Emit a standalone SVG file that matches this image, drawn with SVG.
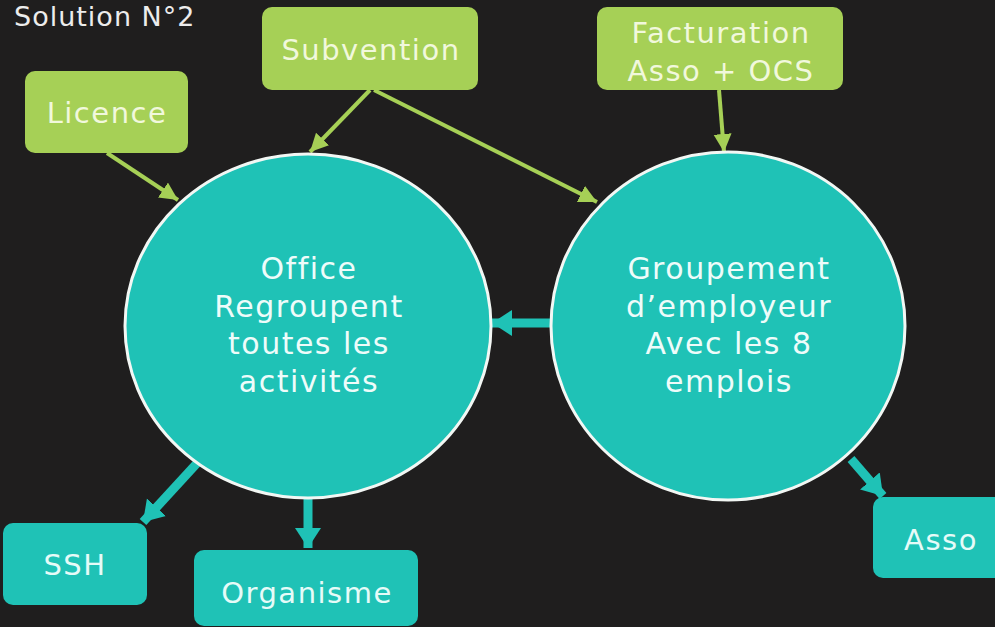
<svg xmlns="http://www.w3.org/2000/svg" width="995" height="627" viewBox="0 0 995 627">
<style>
.bg{fill:#1f1e1e}
.g{fill:#a6d056}
.t{fill:#1fc2b6}
.circ{fill:#1fc2b6;stroke:#f2f7f4;stroke-width:3}
text{font-family:"DejaVu Sans","Liberation Sans",sans-serif;text-anchor:middle;letter-spacing:1.5px}
.gt{fill:#f1f8dc;font-size:29px}
.tt{fill:#e6fbf8;font-size:29px}
.ct{fill:#eefcfa;font-size:30px}
.ga{stroke:#a6d056;stroke-width:4;fill:none}
.ta{stroke:#1fc2b6;stroke-width:9;fill:none}
</style>
<defs>
<marker id="gh" markerUnits="userSpaceOnUse" markerWidth="20" markerHeight="20" refX="18" refY="9" orient="auto"><path d="M0,0 L18,9 L0,18 Z" fill="#a6d056"/></marker>
<marker id="th" markerUnits="userSpaceOnUse" markerWidth="26" markerHeight="30" refX="20" refY="13" orient="auto"><path d="M0,0 L20,13 L0,26 Z" fill="#1fc2b6"/></marker>
</defs>
<rect class="bg" x="0" y="0" width="995" height="627"/>
<text x="14" y="26" style="fill:#ececec;font-size:27px;text-anchor:start;letter-spacing:1px">Solution N°2</text>
<g id="connectors">
<line class="ga" x1="107" y1="153" x2="178" y2="200" marker-end="url(#gh)"/>
<line class="ga" x1="370" y1="90" x2="310" y2="152" marker-end="url(#gh)"/>
<line class="ga" x1="374" y1="90" x2="597" y2="202" marker-end="url(#gh)"/>
<line class="ga" x1="719" y1="90" x2="724" y2="152" marker-end="url(#gh)"/>
<line class="ta" x1="553" y1="323" x2="492" y2="323" marker-end="url(#th)"/>
<line class="ta" x1="199" y1="461" x2="143" y2="522" marker-end="url(#th)"/>
<line class="ta" x1="308" y1="498" x2="308" y2="548" marker-end="url(#th)"/>
<line class="ta" x1="851" y1="459" x2="883" y2="496" marker-end="url(#th)"/>
</g>
<g id="licence"><rect class="g" x="25" y="71" width="163" height="82" rx="10"/><text class="gt" x="107" y="123">Licence</text></g>
<g id="subvention"><rect class="g" x="262" y="7" width="216" height="83" rx="10"/><text class="gt" x="371" y="60">Subvention</text></g>
<g id="facturation"><rect class="g" x="597" y="7" width="246" height="83" rx="10"/><text class="gt" x="721" y="43">Facturation</text><text class="gt" x="721" y="81">Asso + OCS</text></g>
<g id="office"><ellipse class="circ" cx="308" cy="326" rx="183" ry="172"/>
<text class="ct" x="309" y="279">Office</text><text class="ct" x="309" y="317">Regroupent</text><text class="ct" x="309" y="354">toutes les</text><text class="ct" x="309" y="392">activités</text></g>
<g id="groupement"><ellipse class="circ" cx="728" cy="326" rx="177" ry="174"/>
<text class="ct" x="729" y="279">Groupement</text><text class="ct" x="729" y="317">d’employeur</text><text class="ct" x="729" y="354">Avec les 8</text><text class="ct" x="729" y="392">emplois</text></g>
<g id="ssh"><rect class="t" x="3" y="523" width="144" height="82" rx="10"/><text class="tt" x="75" y="575">SSH</text></g>
<g id="organisme"><rect class="t" x="194" y="550" width="224" height="76" rx="10"/><text class="tt" x="307" y="603">Organisme</text></g>
<g id="asso"><rect class="t" x="873" y="497" width="135" height="81" rx="10"/><text class="tt" x="941" y="550">Asso</text></g>
</svg>
